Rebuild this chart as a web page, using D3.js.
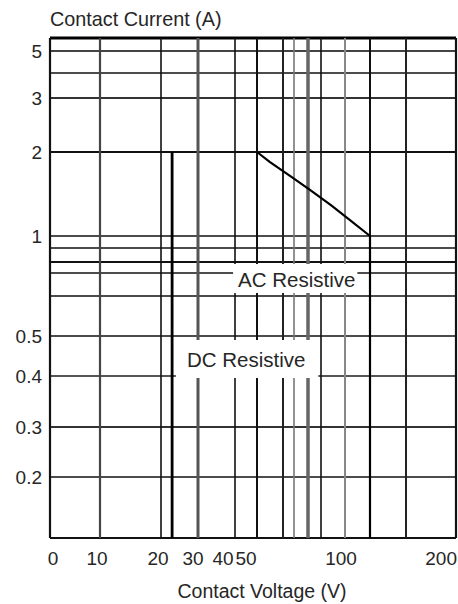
<!DOCTYPE html>
<html>
<head>
<meta charset="utf-8">
<script src="https://cdn.jsdelivr.net/npm/d3@7"></script>
<style>
  html, body { margin: 0; padding: 0; background: #fff; }
  svg { display: block; }
  text { font-family: "Liberation Sans", Arial, sans-serif; fill: #262626; }
</style>
</head>
<body>
<script>
// ---- data ----
const voltageTicks = [0, 10, 20, 30, 40, 50, 100, 200];
const currentTicks = [5, 3, 2, 1, 0.5, 0.4, 0.3, 0.2];
const voltageGrid = [0, 10, 20, 30, 40, 50, 60, 70, 80, 90, 100, 120, 150, 200];
const currentGrid = [6, 5, 4, 3, 2, 1, 0.9, 0.8, 0.7, 0.6, 0.5, 0.4, 0.3, 0.2, 0.1];
const dcVoltage = [23, 23];
const dcCurrent = [0.1, 2];
const acVoltage = [50, 55, 68, 81.5, 94, 104, 120, 120];
const acCurrent = [2, 1.88, 1.70, 1.55, 1.37, 1.19, 1.0, 0.1];
const labelNames = ["AC Resistive", "DC Resistive"];
const labelVoltage = [41.4, 27];
const labelCurrent = [0.639, 0.4225];

// ---- layout (the printed axes are hand-spaced, so the scales are piecewise) ----
const W = 458, H = 604;
const xRangePx = [50, 100, 161, 198, 235, 257, 283, 294, 308, 321, 345, 370, 406, 456];
const yRangePx = [38, 51, 73, 98, 152, 236, 248, 262, 273, 296, 336, 376, 427, 477, 538];
// small nudges of the printed x tick labels relative to their grid lines
const xLabelNudge = {0: 3, 10: -3, 20: -3, 30: -5, 40: -12, 50: -11, 100: -4, 200: 1};

const x = d3.scaleLinear().domain(voltageGrid).range(xRangePx);
const y = d3.scaleLinear().domain(currentGrid).range(yRangePx);

const vStyle = {0:[2.2,'#111'],10:[2.2,'#444'],20:[1.6,'#111'],30:[3,'#555'],40:[1.6,'#111'],
  50:[2,'#111'],60:[2,'#222'],70:[1.6,'#777'],80:[3.5,'#666'],90:[1.6,'#111'],100:[2,'#888'],
  120:[2,'#111'],150:[2,'#222'],200:[2.2,'#111']};
const hStyle = {6:[3,'#000'],5:[2,'#444'],4:[1.6,'#111'],3:[2,'#333'],2:[2,'#111'],1:[1.6,'#111'],
  0.9:[1.6,'#111'],0.8:[1.8,'#111'],0.7:[1.6,'#111'],0.6:[1.6,'#111'],0.5:[1.6,'#111'],
  0.4:[2,'#555'],0.3:[2,'#333'],0.2:[1.6,'#111'],0.1:[2,'#111']};

const svg = d3.select("body").append("svg").attr("width", W).attr("height", H);
svg.append("rect").attr("width", W).attr("height", H).attr("fill", "#fff");

const x0 = x(voltageGrid[0]), x1 = x(voltageGrid[voltageGrid.length - 1]);
const y0 = y(currentGrid[0]), y1 = y(currentGrid[currentGrid.length - 1]);

// horizontal grid
svg.append("g").selectAll("line").data(currentGrid).join("line")
  .attr("x1", x0).attr("x2", x1)
  .attr("y1", d => y(d)).attr("y2", d => y(d))
  .attr("stroke", d => hStyle[d][1]).attr("stroke-width", d => hStyle[d][0]);

// vertical grid
svg.append("g").selectAll("line").data(voltageGrid).join("line")
  .attr("x1", d => x(d)).attr("x2", d => x(d))
  .attr("y1", y0).attr("y2", y1)
  .attr("stroke", d => vStyle[d][1]).attr("stroke-width", d => vStyle[d][0]);

// limit curves
const line = d3.line().x(d => x(d[0])).y(d => y(d[1]));
svg.append("path").datum(d3.zip(dcVoltage, dcCurrent)).attr("d", line)
  .attr("fill", "none").attr("stroke", "#000").attr("stroke-width", 2.8);
svg.append("path").datum(d3.zip(acVoltage, acCurrent)).attr("d", line)
  .attr("fill", "none").attr("stroke", "#000").attr("stroke-width", 2.2)
  .attr("stroke-linejoin", "round");

// annotation labels with white boxes
const pads = [[5, 2, 4, 2], [11, 13, 8, 7]]; // left, right, top, bottom
labelNames.forEach((name, i) => {
  const g = svg.append("g");
  const t = g.append("text").attr("x", x(labelVoltage[i])).attr("y", y(labelCurrent[i]))
    .attr("font-size", 20.5).text(name);
  const b = t.node().getBBox();
  const p = pads[i];
  g.insert("rect", "text").attr("x", b.x - p[0]).attr("y", b.y - p[2])
    .attr("width", b.width + p[0] + p[1]).attr("height", b.height + p[2] + p[3])
    .attr("fill", "#fff");
});

// y tick labels
svg.append("g").selectAll("text").data(currentTicks).join("text")
  .attr("x", x0 - 8).attr("y", d => y(d)).attr("dy", "0.36em")
  .attr("text-anchor", "end").attr("font-size", 19).text(d => d);

// x tick labels
svg.append("g").selectAll("text").data(voltageTicks).join("text")
  .attr("x", d => x(d) + xLabelNudge[d])
  .attr("y", y1 + 27)
  .attr("text-anchor", (d, i) => i === voltageTicks.length - 1 ? "end" : "middle")
  .attr("font-size", 19).text(d => d);

// axis titles
svg.append("text").attr("x", x0).attr("y", 26).attr("font-size", 19.8).text("Contact Current (A)");
svg.append("text").attr("x", 262).attr("y", y1 + 60).attr("text-anchor", "middle")
  .attr("font-size", 19.5).text("Contact Voltage (V)");
</script>
</body>
</html>
